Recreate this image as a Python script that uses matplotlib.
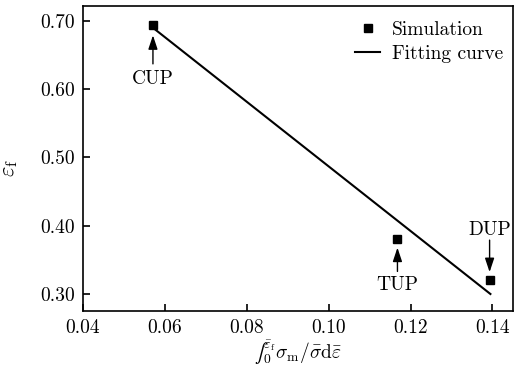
import matplotlib
matplotlib.use('Agg')
import matplotlib.pyplot as plt

# simulation points
sim_x = [0.0571, 0.1168, 0.1393]
sim_y = [0.694, 0.380, 0.320]
labels = ['CUP', 'TUP', 'DUP']

# fitting line end points
fit_x = [0.0571, 0.1395]
fit_y = [0.690, 0.300]

plt.rcParams['font.family'] = ['cmr10', 'DejaVu Serif']
plt.rcParams['mathtext.fontset'] = 'cm'
plt.rcParams['axes.formatter.use_mathtext'] = True
plt.rcParams['font.size'] = 14

fig = plt.figure(figsize=(5.15, 3.69), dpi=100)
ax = fig.add_axes([0.161, 0.157, 0.835, 0.827])

ax.plot(sim_x, sim_y, 's', color='black', markersize=6, label='Simulation')
ax.plot(fit_x, fit_y, '-', color='black', linewidth=1.5, label='Fitting curve')

arr = dict(arrowstyle='-|>,head_length=0.6,head_width=0.2', color='black', lw=1.0, mutation_scale=14)
# CUP: arrow from below
ax.annotate('', xy=(sim_x[0], 0.683), xytext=(sim_x[0], 0.633), arrowprops=arr)
ax.text(sim_x[0], 0.615, labels[0], ha='center', va='center')
# TUP: arrow from below
ax.annotate('', xy=(sim_x[1], 0.372), xytext=(sim_x[1], 0.329), arrowprops=arr)
ax.text(sim_x[1], 0.313, labels[1], ha='center', va='center')
# DUP: arrow from above
ax.annotate('', xy=(sim_x[2], 0.328), xytext=(sim_x[2], 0.383), arrowprops=arr)
ax.text(sim_x[2], 0.394, labels[2], ha='center', va='center')

ax.set_xlim(0.04, 0.145)
ax.set_ylim(0.275, 0.722)
ax.set_xticks([0.04, 0.06, 0.08, 0.10, 0.12, 0.14])
ax.set_xticklabels(['0.04', '0.06', '0.08', '0.10', '0.12', '0.14'])
ax.set_yticks([0.30, 0.40, 0.50, 0.60, 0.70])
ax.set_yticklabels(['0.30', '0.40', '0.50', '0.60', '0.70'])
ax.tick_params(direction='in', length=5, width=1.2, top=False, right=False, pad=6)
for s in ax.spines.values():
    s.set_linewidth(1.2)

ax.set_xlabel('$\u222b_0^{\\bar{\\varepsilon}_{\\rm f}}\\sigma_{\\rm m}/\\bar{\\sigma}{\\rm d}\\bar{\\varepsilon}$', labelpad=1)
ax.set_ylabel(r'$\varepsilon_{\rm f}$', fontsize=16)
ax.yaxis.set_label_coords(-0.147, 0.47)

ax.legend(loc='upper right', bbox_to_anchor=(0.995, 0.975), frameon=False, handlelength=1.3,
          borderaxespad=0.0, handletextpad=0.6, labelspacing=0.3)

plt.savefig('out.png', dpi=100)
